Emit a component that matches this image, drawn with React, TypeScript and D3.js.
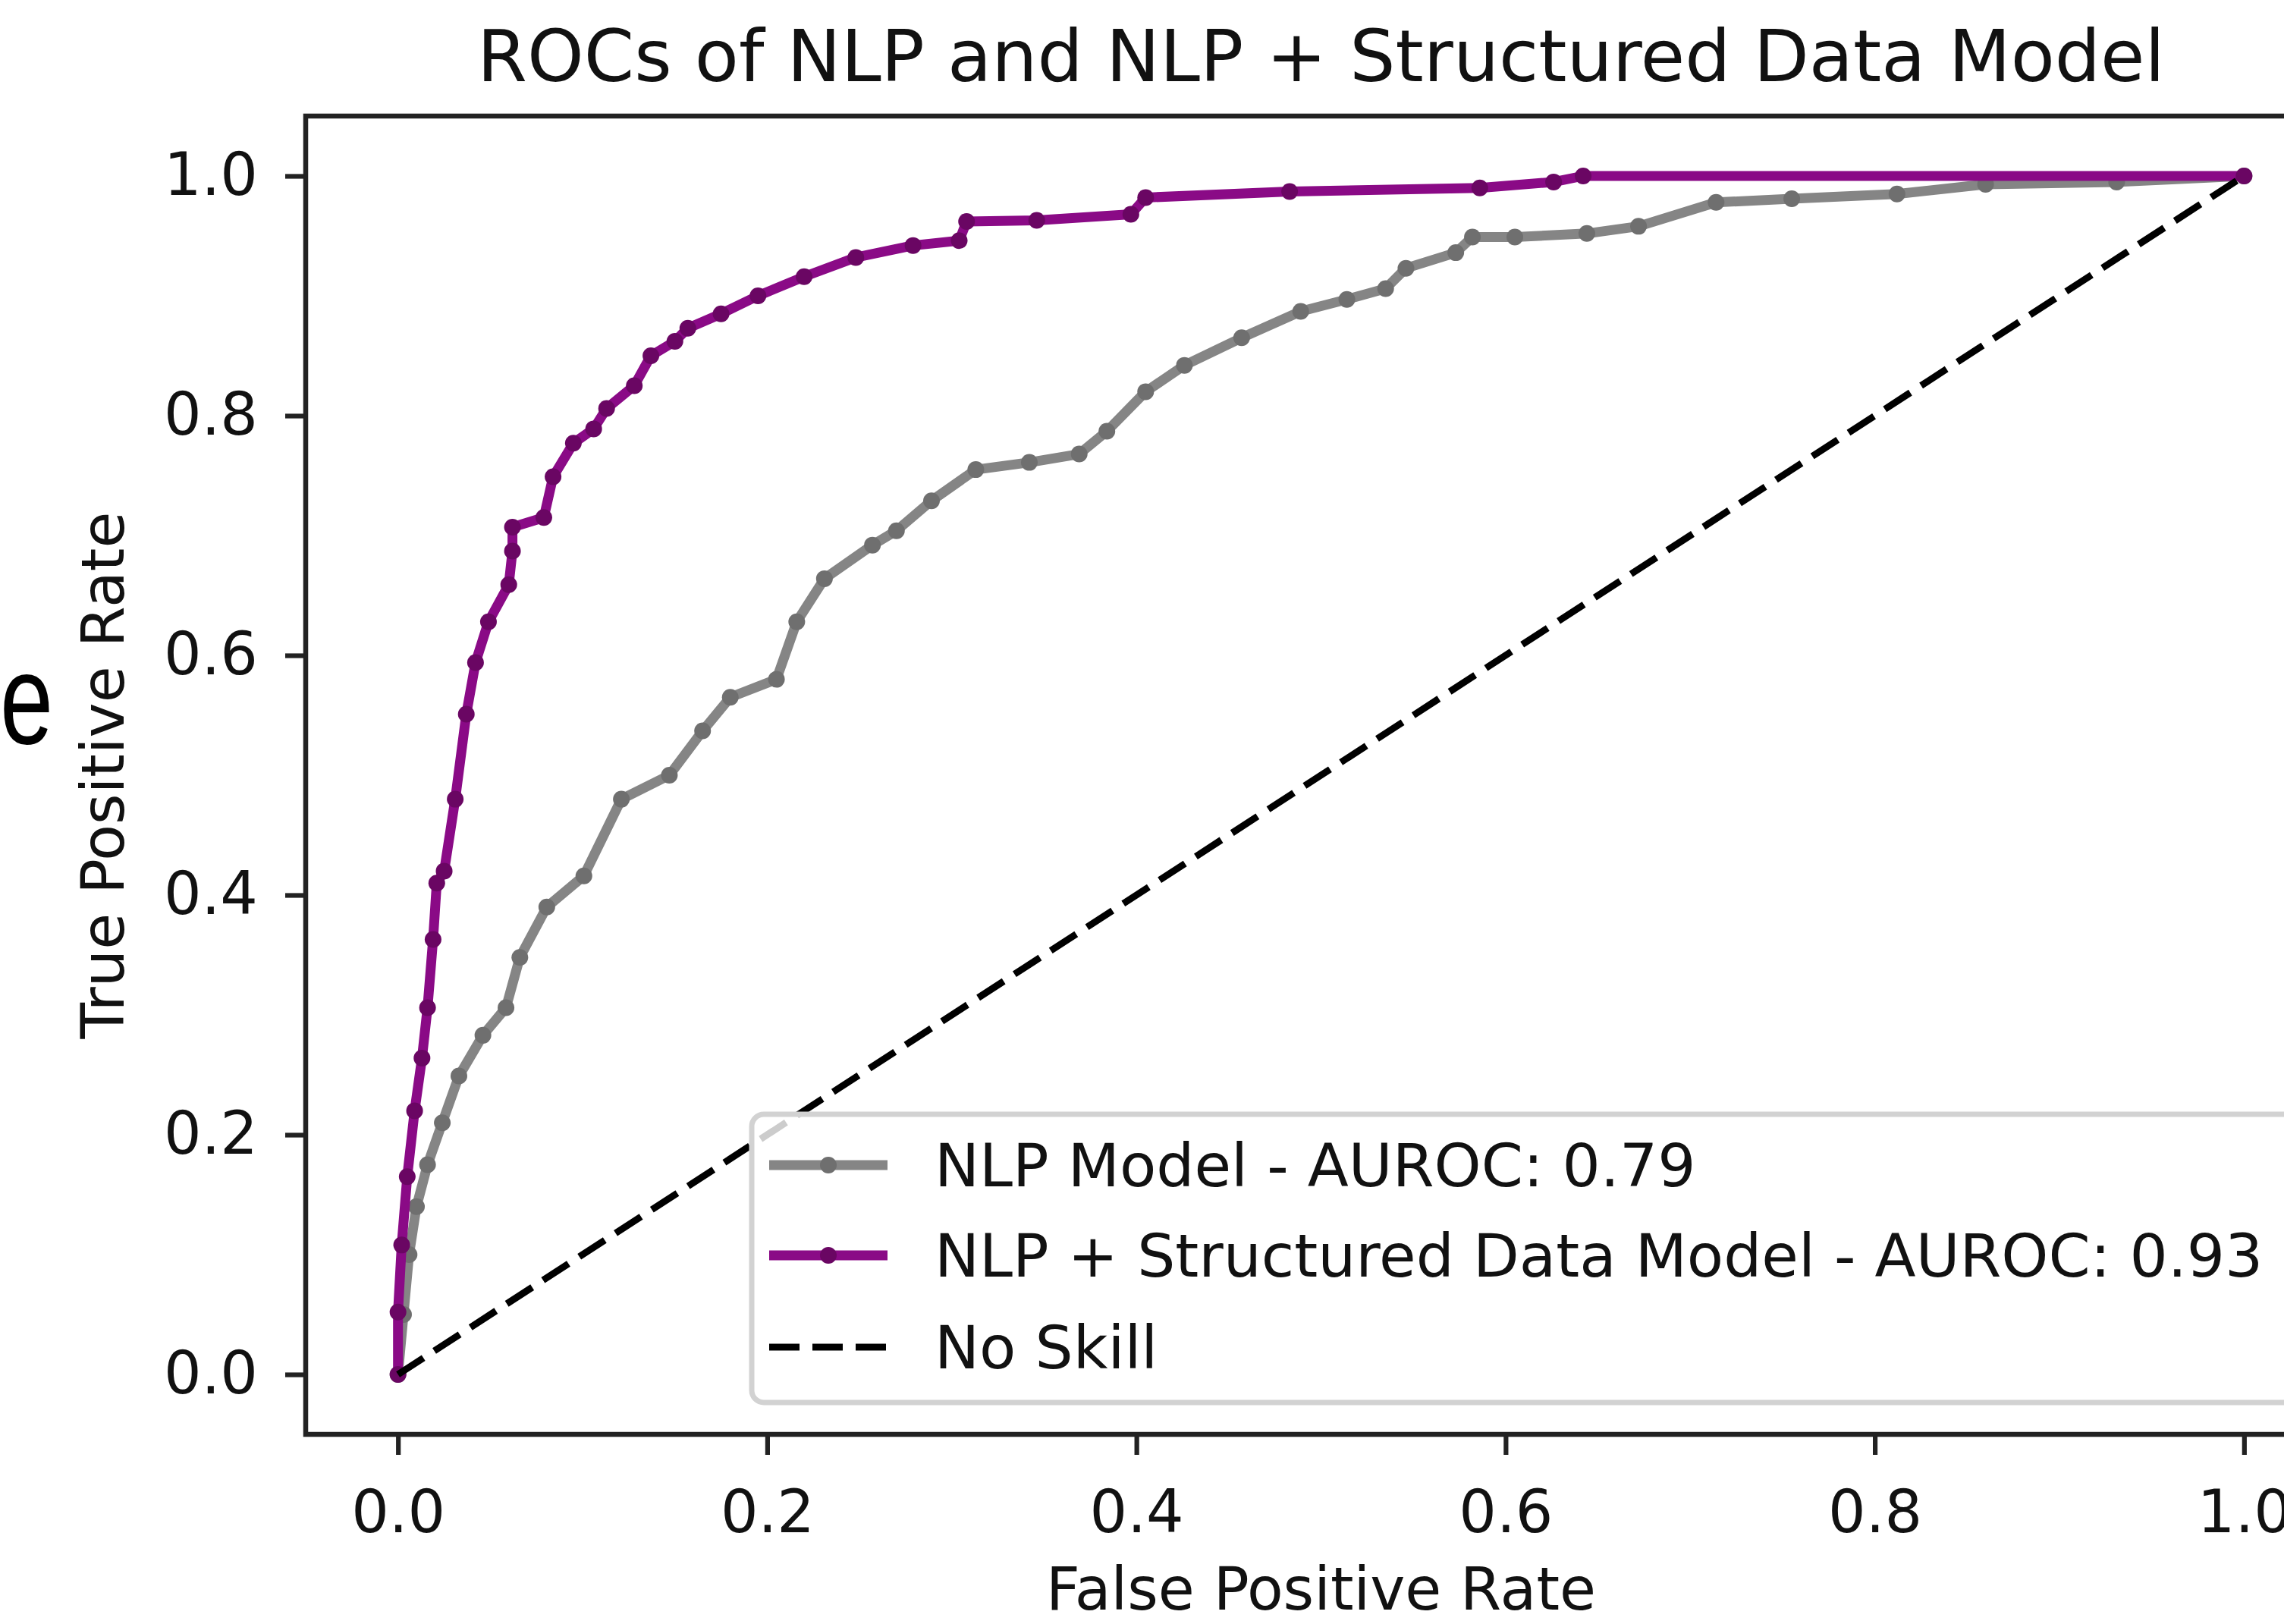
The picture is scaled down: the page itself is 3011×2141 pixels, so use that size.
import React, { useRef, useEffect } from 'react';
import * as d3 from 'd3';

// ROC points
const nlpFpr = [0, 0.003, 0.006, 0.01, 0.016, 0.024, 0.033, 0.046, 0.0585, 0.066, 0.0806, 0.1007, 0.121, 0.147, 0.165, 0.18, 0.205, 0.216, 0.231, 0.257, 0.27, 0.289, 0.313, 0.342, 0.369, 0.384, 0.405, 0.426, 0.457, 0.489, 0.514, 0.535, 0.546, 0.573, 0.582, 0.605, 0.644, 0.672, 0.714, 0.755, 0.812, 0.86, 0.931, 1.0];
const nlpTpr = [0, 0.05, 0.1, 0.14, 0.175, 0.21, 0.249, 0.283, 0.306, 0.348, 0.39, 0.416, 0.48, 0.5, 0.537, 0.565, 0.58, 0.628, 0.664, 0.692, 0.704, 0.729, 0.755, 0.761, 0.768, 0.787, 0.82, 0.842, 0.865, 0.887, 0.897, 0.906, 0.923, 0.936, 0.949, 0.949, 0.952, 0.958, 0.978, 0.981, 0.985, 0.993, 0.995, 1.0];

const comboFpr = [0, 0.0, 0.002, 0.005, 0.009, 0.013, 0.016, 0.019, 0.021, 0.025, 0.031, 0.037, 0.042, 0.049, 0.06, 0.062, 0.062, 0.079, 0.084, 0.095, 0.106, 0.113, 0.128, 0.137, 0.15, 0.157, 0.175, 0.195, 0.22, 0.248, 0.279, 0.304, 0.308, 0.346, 0.397, 0.405, 0.483, 0.586, 0.626, 0.642, 1.0];
const comboTpr = [0, 0.052, 0.108, 0.165, 0.22, 0.264, 0.306, 0.363, 0.41, 0.42, 0.48, 0.551, 0.594, 0.628, 0.659, 0.687, 0.707, 0.715, 0.749, 0.777, 0.789, 0.806, 0.825, 0.85, 0.862, 0.873, 0.885, 0.9, 0.916, 0.932, 0.942, 0.946, 0.962, 0.963, 0.968, 0.982, 0.987, 0.99, 0.995, 1.0, 1.0];

const noSkillFpr = [0, 1];
const noSkillTpr = [0, 1];

const tickValues = [0, 0.2, 0.4, 0.6, 0.8, 1.0];
const seriesLabels = ['NLP Model - AUROC: 0.79', 'NLP + Structured Data Model - AUROC: 0.93', 'No Skill'];
const seriesColors = ['#858585', '#8a0a86', '#000000'];
const markerColors = ['#6f6f6f', '#6a0663'];

const FONT = '"DejaVu Sans", sans-serif';

const App = () => {
  const svgRef = useRef<SVGSVGElement | null>(null);

  useEffect(() => {
    if (!svgRef.current) return;
    const svg = d3.select(svgRef.current);
    svg.selectAll('*').remove();

    // axes box; right edge falls outside the picture
    const box = { left: 403, right: 3080, top: 153, bottom: 1891 };
    const x = d3.scaleLinear().domain([-0.05, 1.05]).range([box.left, box.right]);
    const y = d3.scaleLinear().domain([-0.05, 1.05]).range([box.bottom, box.top]);

    svg.append('rect').attr('width', 3011).attr('height', 2141).attr('fill', '#fff');

    // panel letter
    svg.append('g')
      .attr('transform', 'translate(0,980) scale(0.75,1)')
      .append('text')
      .attr('font-family', '"Liberation Sans", Arial, sans-serif')
      .attr('font-size', 168)
      .attr('fill', '#000')
      .text('e');

    // curves
    const line = d3.line<[number, number]>().x(d => x(d[0])).y(d => y(d[1]));
    const series = [
      nlpFpr.map((v, i) => [v, nlpTpr[i]] as [number, number]),
      comboFpr.map((v, i) => [v, comboTpr[i]] as [number, number]),
    ];
    series.forEach((pts, s) => {
      svg.append('path')
        .attr('d', line(pts))
        .attr('fill', 'none')
        .attr('stroke', seriesColors[s])
        .attr('stroke-width', 13)
        .attr('stroke-linejoin', 'round');
      svg.append('g').selectAll('circle')
        .data(pts)
        .enter()
        .append('circle')
        .attr('cx', d => x(d[0]))
        .attr('cy', d => y(d[1]))
        .attr('r', 11)
        .attr('fill', markerColors[s]);
    });

    const skill = noSkillFpr.map((v, i) => [v, noSkillTpr[i]] as [number, number]);
    svg.append('path')
      .attr('d', line(skill))
      .attr('fill', 'none')
      .attr('stroke', seriesColors[2])
      .attr('stroke-width', 9)
      .attr('stroke-dasharray', '40 17');

    // axes
    const xAxis = svg.append('g')
      .attr('transform', `translate(0,${box.bottom})`)
      .call(d3.axisBottom(x).tickValues(tickValues).tickFormat(d3.format('.1f')).tickSize(27).tickPadding(47));
    const yAxis = svg.append('g')
      .attr('transform', `translate(${box.left},0)`)
      .call(d3.axisLeft(y).tickValues(tickValues).tickFormat(d3.format('.1f')).tickSize(27).tickPadding(36));
    [xAxis, yAxis].forEach(a => {
      a.select('.domain').remove();
      a.attr('font-family', FONT).attr('font-size', 78);
      a.selectAll('line').attr('stroke', '#222').attr('stroke-width', 6.2);
      a.selectAll('text').attr('fill', '#111');
    });

    // spines
    svg.append('rect')
      .attr('x', box.left)
      .attr('y', box.top)
      .attr('width', box.right - box.left)
      .attr('height', box.bottom - box.top)
      .attr('fill', 'none')
      .attr('stroke', '#222')
      .attr('stroke-width', 6.5);

    // legend (lower right, cut by the picture edge)
    svg.append('rect')
      .attr('x', 991).attr('y', 1469)
      .attr('width', 2200).attr('height', 380)
      .attr('rx', 16)
      .attr('fill', '#fff').attr('fill-opacity', 0.8)
      .attr('stroke', '#d2d2d2').attr('stroke-width', 7);

    const rowY = [1536, 1655, 1776];
    seriesLabels.forEach((label, i) => {
      const g = svg.append('g').attr('transform', `translate(0,${rowY[i]})`);
      const h = g.append('line')
        .attr('x1', 1014).attr('x2', 1170)
        .attr('y1', 0).attr('y2', 0)
        .attr('stroke', seriesColors[i])
        .attr('stroke-width', i === 2 ? 9 : 13);
      if (i === 2) {
        h.attr('stroke-dasharray', '40 17');
      } else {
        g.append('circle').attr('cx', 1092).attr('cy', 0).attr('r', 11).attr('fill', markerColors[i]);
      }
      g.append('text')
        .attr('x', 1232).attr('y', 28)
        .attr('font-family', FONT).attr('font-size', 79)
        .attr('fill', '#111')
        .text(label);
    });

    // titles
    svg.append('text')
      .attr('x', (box.left + box.right) / 2).attr('y', 107)
      .attr('text-anchor', 'middle')
      .attr('font-family', FONT).attr('font-size', 95)
      .attr('fill', '#111')
      .text('ROCs of NLP and NLP + Structured Data Model');
    svg.append('text')
      .attr('x', (box.left + box.right) / 2).attr('y', 2122)
      .attr('text-anchor', 'middle')
      .attr('font-family', FONT).attr('font-size', 78)
      .attr('fill', '#111')
      .text('False Positive Rate');
    svg.append('text')
      .attr('transform', `translate(163,${(box.top + box.bottom) / 2}) rotate(-90)`)
      .attr('text-anchor', 'middle')
      .attr('font-family', FONT).attr('font-size', 78)
      .attr('fill', '#111')
      .text('True Positive Rate');
  }, []);

  return (
    <div style={{ position: 'absolute', left: 0, top: 0 }}>
      <svg ref={svgRef} width={3011} height={2141} style={{ display: 'block' }} />
    </div>
  );
};

export default App;
